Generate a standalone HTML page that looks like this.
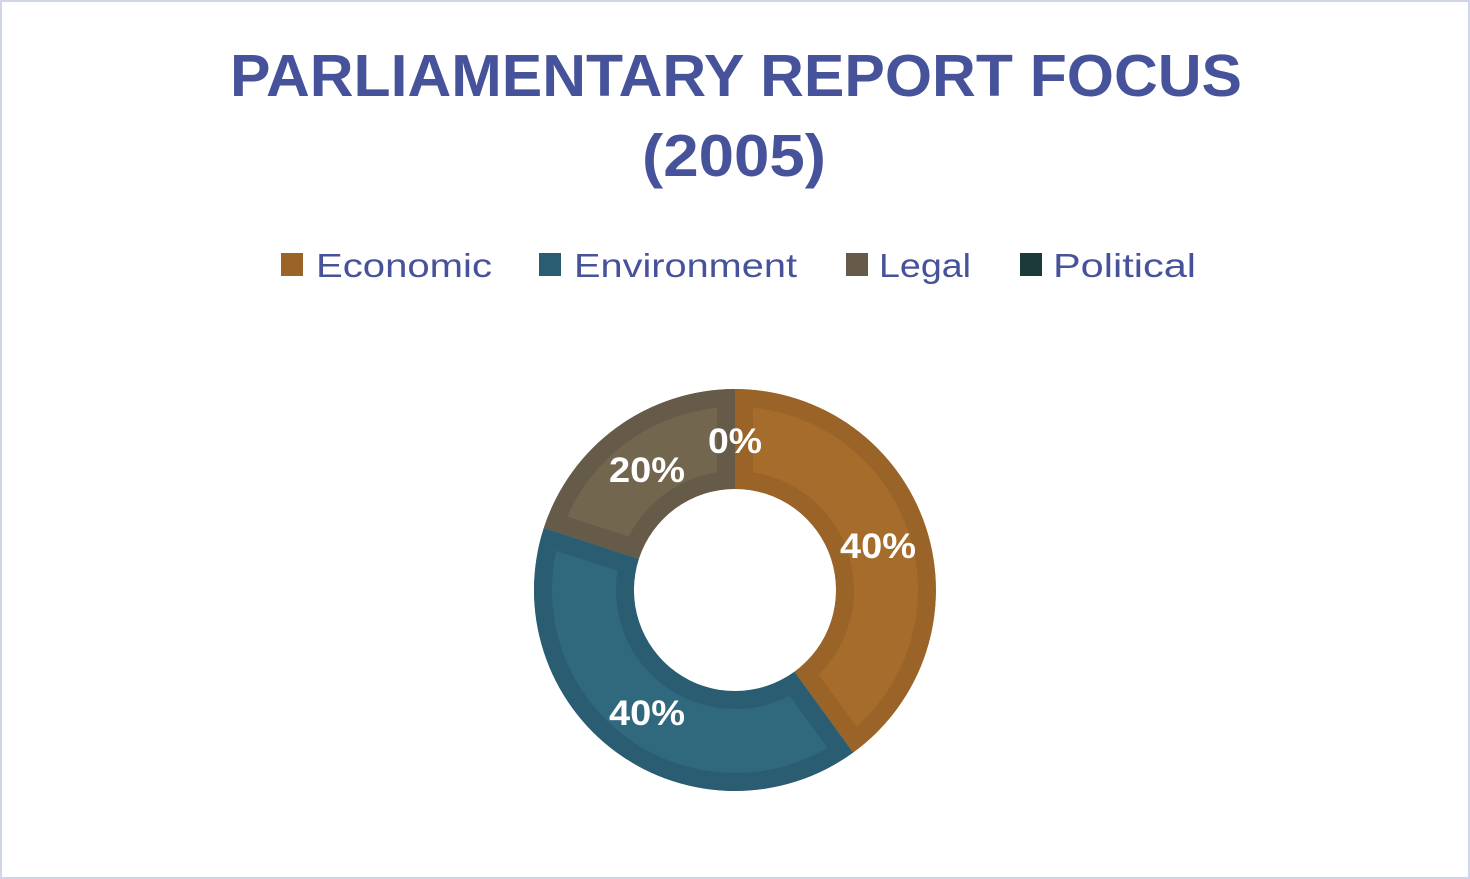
<!DOCTYPE html>
<html><head><meta charset="utf-8"><style>
html,body{margin:0;padding:0;background:#fff;}
svg{display:block;}
</style></head><body>
<svg width="1470" height="879" viewBox="0 0 1470 879" xmlns="http://www.w3.org/2000/svg" font-family="Liberation Sans, sans-serif">
<rect x="1" y="1" width="1468" height="877" fill="#fff" stroke="#D0D5E8" stroke-width="2"/>
<text x="736" y="96" text-anchor="middle" font-size="59" font-weight="bold" fill="#46529A" textLength="1012" lengthAdjust="spacingAndGlyphs">PARLIAMENTARY REPORT FOCUS</text>
<text x="734" y="176" text-anchor="middle" font-size="59" font-weight="bold" fill="#46529A" textLength="184" lengthAdjust="spacingAndGlyphs">(2005)</text>
<g font-size="33" fill="#46529A">
<rect x="281" y="253" width="22" height="23" fill="#9A6327"/>
<text x="316" y="277" textLength="176" lengthAdjust="spacingAndGlyphs">Economic</text>
<rect x="539" y="253" width="22" height="23" fill="#2A5D71"/>
<text x="574" y="277" textLength="223" lengthAdjust="spacingAndGlyphs">Environment</text>
<rect x="846" y="253" width="22" height="23" fill="#655B48"/>
<text x="879" y="277" textLength="92" lengthAdjust="spacingAndGlyphs">Legal</text>
<rect x="1020" y="253" width="22" height="23" fill="#1C3A3A"/>
<text x="1053" y="277" textLength="143" lengthAdjust="spacingAndGlyphs">Political</text>
</g>
<defs>
<clipPath id="c1"><path id="p1" d="M735 389 A201 201 0 0 1 853.1 752.6 L794.4 671.7 A101 101 0 0 0 735 489 Z"/></clipPath>
<clipPath id="c2"><path id="p2" d="M853.1 752.6 A201 201 0 0 1 543.8 527.9 L638.9 558.8 A101 101 0 0 0 794.4 671.7 Z"/></clipPath>
<clipPath id="c3"><path id="p3" d="M543.8 527.9 A201 201 0 0 1 735 389 L735 489 A101 101 0 0 0 638.9 558.8 Z"/></clipPath>
</defs>
<use href="#p1" fill="#A66C2B" stroke="#9A6327" stroke-width="36" clip-path="url(#c1)"/>
<use href="#p2" fill="#30687E" stroke="#2A5D71" stroke-width="36" clip-path="url(#c2)"/>
<use href="#p3" fill="#72664F" stroke="#655B48" stroke-width="36" clip-path="url(#c3)"/>
<g font-size="35" font-weight="bold" fill="#fff" text-anchor="middle">
<text x="878" y="558" textLength="76" lengthAdjust="spacingAndGlyphs">40%</text>
<text x="647" y="725" textLength="76" lengthAdjust="spacingAndGlyphs">40%</text>
<text x="647" y="482" textLength="76" lengthAdjust="spacingAndGlyphs">20%</text>
<text x="735" y="453" textLength="54" lengthAdjust="spacingAndGlyphs">0%</text>
</g>
</svg>
</body></html>
